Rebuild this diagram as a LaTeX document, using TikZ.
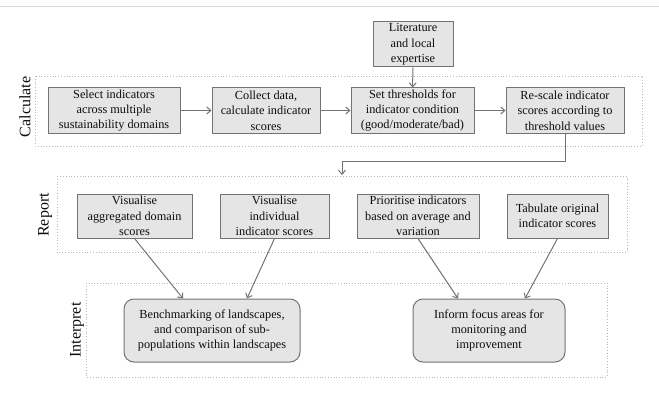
\documentclass[tikz,border=0pt]{standalone}
\usepackage{fontspec}
\setmainfont{Liberation Serif}
\usetikzlibrary{arrows.meta}
\definecolor{boxfill}{gray}{0.9}
\definecolor{boxline}{gray}{0.45}
\definecolor{panelline}{gray}{0.72}
\definecolor{inktext}{gray}{0.05}

\begin{document}
\begin{tikzpicture}[x=1pt, y=-1pt,
    box/.style={draw=boxline, fill=boxfill, line width=1pt, align=center,
      minimum height=45pt, inner sep=1pt, text=inktext,
      font=\fontsize{12.3}{15.4}\selectfont},
    roundbox/.style={box, rounded corners=10pt, minimum height=63pt},
    panel/.style={draw=panelline, dotted, line width=0.8pt},
    stage/.style={rotate=90, text=inktext, font=\fontsize{16}{18}\selectfont},
    link/.style={draw=boxline, line width=1pt, -{Straight Barb[length=4pt,width=7pt]}}]
    \useasboundingbox (0,0) rectangle (659,396);
    \draw[gray!30, line width=1pt] (0,7) -- (659,7);
    % panels
    \draw[panel] (35,76) rectangle (642,146);
    \draw[panel] (57,176) rectangle (627,252);
    \draw[panel] (86,283) rectangle (607,377);
    \node[stage] (calc) at (25,107) {Calculate};
    \node[stage] (report) at (45,215) {Report};
    \node[stage] (interp) at (77,330) {Interpret};
    % calculate
    \node[box, minimum width=132pt] (select) at (114,110.5) {Select indicators\\across multiple\\sustainability domains};
    \node[box, minimum width=108pt] (collect) at (266,110.5) {Collect data,\\calculate indicator\\scores};
    \node[box, minimum width=123pt] (thresh) at (412.5,110.5) {Set thresholds for\\indicator condition\\(good/moderate/bad)};
    \node[box, minimum width=118pt] (rescale) at (565,110.5) {Re-scale indicator\\scores according to\\threshold values};
    \node[box, minimum width=80pt] (lit) at (413,44.5) {Literature\\and local\\expertise};
    % report
    \node[box, minimum width=115pt, minimum height=44pt] (aggr) at (134.5,216) {Visualise\\aggregated domain\\scores};
    \node[box, minimum width=109pt, minimum height=44pt] (indiv) at (274.5,216) {Visualise\\individual\\indicator scores};
    \node[box, minimum width=122pt, minimum height=44pt] (prior) at (418,216) {Prioritise indicators\\based on average and\\variation};
    \node[box, minimum width=101pt, minimum height=44pt] (tab) at (557.5,216) {Tabulate original\\indicator scores};
    % interpret
    \node[roundbox, minimum width=176pt] (bench) at (212,330.5) {Benchmarking of landscapes,\\and comparison of sub-\\populations within landscapes};
    \node[roundbox, minimum width=152pt] (focus) at (489,330.5) {Inform focus areas for\\monitoring and\\improvement};
    \coordinate (turn) at (342,161);
    \coordinate (reporttop) at (342,175);

    \draw[link] (select) -- (collect);
    \draw[link] (collect) -- (thresh);
    \draw[link] (thresh) -- (rescale);
    \draw[link] (lit) -- (thresh);
    \draw[link] (rescale.south) |- (turn) -- (reporttop);
    \draw[link] (aggr.south) -- ([xshift=-29pt]bench.north);
    \draw[link] (indiv.south) -- ([xshift=35pt]bench.north);
    \draw[link] (prior.south) -- ([xshift=-31pt]focus.north);
    \draw[link] (tab.south) -- ([xshift=36pt]focus.north);
  \end{tikzpicture}
\end{document}
